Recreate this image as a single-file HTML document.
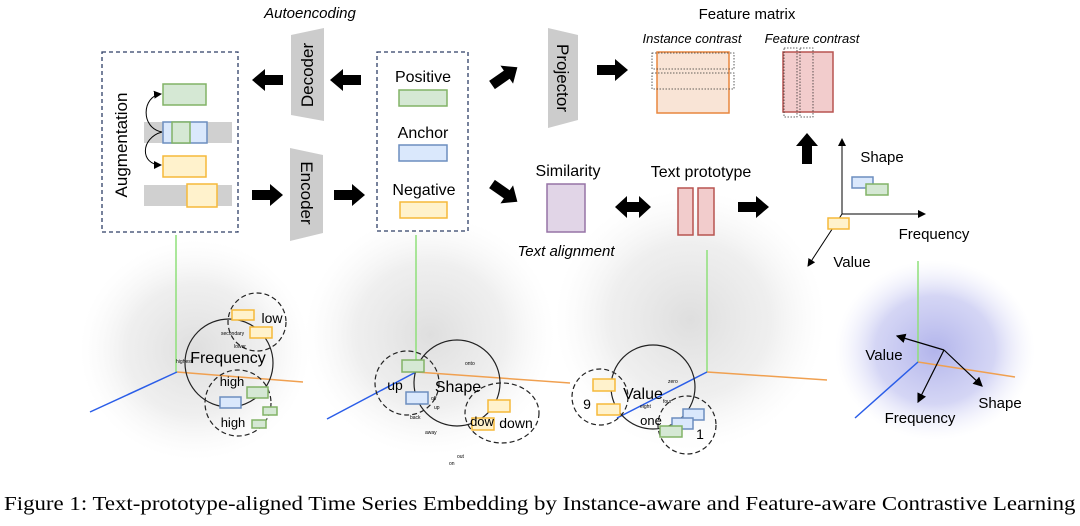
<!DOCTYPE html>
<html><head><meta charset="utf-8"><style>
html,body{margin:0;padding:0;background:#fff;}
svg{display:block;position:absolute;left:0;top:0;}
text{font-family:"Liberation Sans",sans-serif;fill:#000;}
#cap{position:absolute;left:4px;top:493px;font-family:"Liberation Serif",serif;font-size:20px;white-space:nowrap;color:#000;transform:scaleX(1.143);transform-origin:0 0;}
</style></head><body>
<svg width="1080" height="526" viewBox="0 0 1080 526" xmlns="http://www.w3.org/2000/svg">
<defs>
<radialGradient id="g" cx="50%" cy="50%" r="50%"><stop offset="0" stop-color="#d6d6d6" stop-opacity="0.8"/><stop offset="0.6" stop-color="#e2e2e2" stop-opacity="0.55"/><stop offset="1" stop-color="#f2f2f2" stop-opacity="0"/></radialGradient>
<radialGradient id="b" cx="50%" cy="50%" r="50%"><stop offset="0" stop-color="#9fa2e6" stop-opacity="0.8"/><stop offset="0.6" stop-color="#b8baee" stop-opacity="0.6"/><stop offset="1" stop-color="#e4e5f9" stop-opacity="0"/></radialGradient>
<marker id="ah" markerWidth="8" markerHeight="8" refX="7" refY="4" orient="auto"><path d="M0,0 L8,4 L0,8 Z" fill="#000"/></marker>
<path id="arr" d="M0,-5 L18,-5 L18,-11 L31,0 L18,11 L18,5 L0,5 Z" fill="#000"/>
</defs>

<ellipse cx="195" cy="350" rx="115" ry="110" fill="url(#g)"/>
<ellipse cx="430" cy="335" rx="125" ry="120" fill="url(#g)"/>
<ellipse cx="690" cy="320" rx="135" ry="130" fill="url(#g)"/>
<ellipse cx="935" cy="350" rx="100" ry="90" fill="url(#b)"/>

<g stroke-width="1.5">
<line x1="176" y1="235" x2="176" y2="372" stroke="#8fe07a"/>
<line x1="177" y1="372" x2="303" y2="382" stroke="#f0a050"/>
<line x1="90" y1="412" x2="177" y2="372" stroke="#2a5de8"/>
<line x1="416" y1="235" x2="416" y2="372" stroke="#8fe07a"/>
<line x1="416" y1="372" x2="570" y2="383" stroke="#f0a050"/>
<line x1="327" y1="419" x2="416" y2="372" stroke="#2a5de8"/>
<line x1="707" y1="250" x2="707" y2="372" stroke="#8fe07a"/>
<line x1="707" y1="372" x2="827" y2="380" stroke="#f0a050"/>
<line x1="617" y1="418" x2="707" y2="372" stroke="#2a5de8"/>
<line x1="918" y1="261" x2="918" y2="362" stroke="#8fe07a"/>
<line x1="918" y1="362" x2="1015" y2="377" stroke="#f0a050"/>
<line x1="855" y1="418" x2="918" y2="362" stroke="#2a5de8"/>
</g>

<rect x="102" y="52" width="136" height="180" fill="#fff" stroke="#2e3f66" stroke-width="1.3" stroke-dasharray="4,3"/>
<text transform="translate(127,145) rotate(-90)" font-size="17" text-anchor="middle">Augmentation</text>
<rect x="144" y="122" width="88" height="21" fill="#d0d0d0"/>
<rect x="144" y="185" width="88" height="21" fill="#d0d0d0"/>
<rect x="163" y="84" width="43" height="21" fill="#d5e8d4" stroke="#82b366" stroke-width="1.5"/>
<rect x="163" y="122" width="44" height="21" fill="#dae8fc" stroke="#6c8ebf" stroke-width="1.5"/>
<rect x="172" y="122" width="18" height="21" fill="#d5e8d4" stroke="#82b366" stroke-width="1.5"/>
<rect x="163" y="156" width="43" height="21" fill="#fff2cc" stroke="#f5b93a" stroke-width="1.5"/>
<rect x="187" y="184" width="30" height="23" fill="#fff2cc" stroke="#f5b93a" stroke-width="1.5"/>
<path d="M162,132 C140,128 142,96 161,94" fill="none" stroke="#000" stroke-width="1" marker-end="url(#ah)"/>
<path d="M162,132 C140,138 140,165 161,165" fill="none" stroke="#000" stroke-width="1" marker-end="url(#ah)"/>

<use href="#arr" transform="translate(283,80) rotate(180)"/>
<polygon points="291,35 324,28 324,121 291,115" fill="#cccccc"/>
<text transform="translate(313,75) rotate(-90)" font-size="17" text-anchor="middle">Decoder</text>
<use href="#arr" transform="translate(361,80) rotate(180)"/>
<use href="#arr" transform="translate(252,195)"/>
<polygon points="290,148 323,155 323,233 290,241" fill="#cccccc"/>
<text transform="translate(301,193) rotate(90)" font-size="17" text-anchor="middle">Encoder</text>
<use href="#arr" transform="translate(334,195)"/>

<rect x="377" y="52" width="91" height="179" fill="#fff" stroke="#2e3f66" stroke-width="1.3" stroke-dasharray="4,3"/>
<text x="423" y="82" font-size="16" text-anchor="middle">Positive</text>
<rect x="399" y="90" width="48" height="16" fill="#d5e8d4" stroke="#82b366" stroke-width="1.5"/>
<text x="423" y="138" font-size="16" text-anchor="middle">Anchor</text>
<rect x="399" y="145" width="48" height="16" fill="#dae8fc" stroke="#6c8ebf" stroke-width="1.5"/>
<text x="424" y="195" font-size="16" text-anchor="middle">Negative</text>
<rect x="400" y="202" width="47" height="16" fill="#fff2cc" stroke="#f5b93a" stroke-width="1.5"/>

<text x="310" y="18" font-size="15" font-style="italic" text-anchor="middle">Autoencoding</text>

<use href="#arr" transform="translate(492,85) rotate(-35)"/>
<use href="#arr" transform="translate(492,184) rotate(35)"/>

<polygon points="548,28 578,35 578,120 548,128" fill="#cccccc"/>
<text transform="translate(557,78) rotate(90)" font-size="17" text-anchor="middle">Projector</text>
<use href="#arr" transform="translate(597,70)"/>

<text x="747" y="19" font-size="15" text-anchor="middle">Feature matrix</text>
<text x="692" y="43" font-size="13" font-style="italic" text-anchor="middle">Instance contrast</text>
<text x="812" y="43" font-size="13" font-style="italic" text-anchor="middle">Feature contrast</text>
<rect x="657" y="52" width="72" height="61" fill="#f9e4d6" stroke="#e8863e" stroke-width="1.5"/>
<rect x="652" y="53" width="82" height="16" fill="none" stroke="#333" stroke-width="0.8" stroke-dasharray="1.5,1.5"/>
<rect x="652" y="73" width="82" height="16" fill="none" stroke="#333" stroke-width="0.8" stroke-dasharray="1.5,1.5"/>
<rect x="783" y="52" width="50" height="60" fill="#f2cccc" stroke="#b85450" stroke-width="1.5"/>
<rect x="784" y="48" width="13" height="69" fill="none" stroke="#333" stroke-width="0.8" stroke-dasharray="1.5,1.5"/>
<rect x="800" y="48" width="13" height="69" fill="none" stroke="#333" stroke-width="0.8" stroke-dasharray="1.5,1.5"/>
<use href="#arr" transform="translate(807,164) rotate(-90)"/>

<text x="568" y="176" font-size="16" text-anchor="middle">Similarity</text>
<rect x="547" y="184" width="38" height="48" fill="#e1d5e7" stroke="#9673a6" stroke-width="1.5"/>
<text x="566" y="256" font-size="15" font-style="italic" text-anchor="middle">Text alignment</text>
<path d="M615,207 L627,196 L627,202 L639,202 L639,196 L651,207 L639,218 L639,212 L627,212 L627,218 Z" fill="#000"/>
<text x="701" y="177" font-size="16" text-anchor="middle">Text prototype</text>
<rect x="678" y="188" width="15" height="47" fill="#f2cccc" stroke="#b85450" stroke-width="1.5"/>
<rect x="698" y="188" width="16" height="47" fill="#f2cccc" stroke="#b85450" stroke-width="1.5"/>
<use href="#arr" transform="translate(738,207)"/>

<g stroke="#000" stroke-width="1" fill="none">
<line x1="842" y1="214" x2="842" y2="139" marker-end="url(#ah)"/>
<line x1="842" y1="214" x2="925" y2="214" marker-end="url(#ah)"/>
<line x1="842" y1="214" x2="808" y2="266" marker-end="url(#ah)"/>
</g>
<text x="882" y="162" font-size="15" text-anchor="middle">Shape</text>
<text x="934" y="239" font-size="15" text-anchor="middle">Frequency</text>
<text x="852" y="267" font-size="15" text-anchor="middle">Value</text>
<rect x="852" y="177" width="21" height="11" fill="#dae8fc" stroke="#6c8ebf" stroke-width="1.5"/>
<rect x="866" y="184" width="22" height="11" fill="#d5e8d4" stroke="#82b366" stroke-width="1.5"/>
<rect x="828" y="218" width="21" height="11" fill="#fff2cc" stroke="#f5b93a" stroke-width="1.5"/>

<g fill="none" stroke="#222" stroke-width="1.2">
<circle cx="229" cy="363" r="44"/>
<circle cx="257" cy="322" r="29" stroke-dasharray="5,3"/>
<circle cx="238" cy="403" r="33" stroke-dasharray="5,3"/>
<circle cx="457" cy="383" r="43"/>
<circle cx="407" cy="383" r="32" stroke-dasharray="5,3"/>
<ellipse cx="502" cy="413" rx="37" ry="30" stroke-dasharray="5,3"/>
<circle cx="653" cy="387" r="42"/>
<circle cx="600" cy="397" r="28" stroke-dasharray="5,3"/>
<circle cx="687" cy="425" r="29" stroke-dasharray="5,3"/>
</g>
<g font-size="5" fill="#555">
<text x="221" y="335" fill="#555">secondary</text><text x="234" y="348" fill="#555">lower</text><text x="176" y="363" fill="#555">highest</text>
<text x="465" y="365" fill="#555">onto</text><text x="431" y="400" fill="#555">off</text><text x="434" y="409" fill="#555">up</text><text x="410" y="419" fill="#555">back</text><text x="425" y="434" fill="#555">away</text><text x="457" y="458" fill="#555">out</text><text x="449" y="465" fill="#555">on</text>
<text x="668" y="383" fill="#555">zero</text><text x="663" y="403" fill="#555">four</text><text x="640" y="408" fill="#555">eight</text>
</g>
<rect x="232" y="310" width="22" height="10" fill="#fff2cc" stroke="#f5b93a" stroke-width="1.5"/>
<rect x="250" y="327" width="22" height="11" fill="#fff2cc" stroke="#f5b93a" stroke-width="1.5"/>
<rect x="247" y="387" width="21" height="11" fill="#d5e8d4" stroke="#82b366" stroke-width="1.5"/>
<rect x="220" y="397" width="21" height="11" fill="#dae8fc" stroke="#6c8ebf" stroke-width="1.5"/>
<rect x="263" y="407" width="14" height="8" fill="#d5e8d4" stroke="#82b366" stroke-width="1.5"/>
<rect x="252" y="420" width="14" height="8" fill="#d5e8d4" stroke="#82b366" stroke-width="1.5"/>
<text x="228" y="363" font-size="16" text-anchor="middle">Frequency</text>
<text x="272" y="323" font-size="14" text-anchor="middle">low</text>
<text x="232" y="386" font-size="13" text-anchor="middle">high</text>
<text x="233" y="427" font-size="13" text-anchor="middle">high</text>

<rect x="402" y="360" width="22" height="12" fill="#d5e8d4" stroke="#82b366" stroke-width="1.5"/>
<rect x="406" y="392" width="22" height="12" fill="#dae8fc" stroke="#6c8ebf" stroke-width="1.5"/>
<rect x="488" y="400" width="22" height="12" fill="#fff2cc" stroke="#f5b93a" stroke-width="1.5"/>
<rect x="472" y="418" width="22" height="12" fill="#fff2cc" stroke="#f5b93a" stroke-width="1.5"/>
<text x="395" y="390" font-size="14" text-anchor="middle">up</text>
<text x="458" y="392" font-size="16" text-anchor="middle">Shape</text>
<text x="482" y="426" font-size="13" text-anchor="middle">dow</text>
<text x="516" y="428" font-size="14" text-anchor="middle">down</text>

<rect x="593" y="379" width="22" height="12" fill="#fff2cc" stroke="#f5b93a" stroke-width="1.5"/>
<rect x="597" y="404" width="23" height="11" fill="#fff2cc" stroke="#f5b93a" stroke-width="1.5"/>
<rect x="683" y="409" width="21" height="11" fill="#dae8fc" stroke="#6c8ebf" stroke-width="1.5"/>
<rect x="672" y="418" width="21" height="11" fill="#dae8fc" stroke="#6c8ebf" stroke-width="1.5"/>
<rect x="660" y="426" width="22" height="11" fill="#d5e8d4" stroke="#82b366" stroke-width="1.5"/>
<text x="643" y="399" font-size="16" text-anchor="middle">Value</text>
<text x="587" y="409" font-size="14" text-anchor="middle">9</text>
<text x="651" y="425" font-size="13" text-anchor="middle">one</text>
<text x="700" y="439" font-size="14" text-anchor="middle">1</text>

<g stroke="#000" stroke-width="1.2" fill="none">
<line x1="944" y1="350" x2="897" y2="336" marker-end="url(#ah)"/>
<line x1="944" y1="350" x2="918" y2="402" marker-end="url(#ah)"/>
<line x1="944" y1="350" x2="982" y2="386" marker-end="url(#ah)"/>
</g>
<text x="884" y="360" font-size="15" text-anchor="middle">Value</text>
<text x="920" y="423" font-size="15" text-anchor="middle">Frequency</text>
<text x="1000" y="408" font-size="15" text-anchor="middle">Shape</text>
</svg>
<div id="cap">Figure 1: Text-prototype-aligned Time Series Embedding by Instance-aware and Feature-aware Contrastive Learning</div>
</body></html>
